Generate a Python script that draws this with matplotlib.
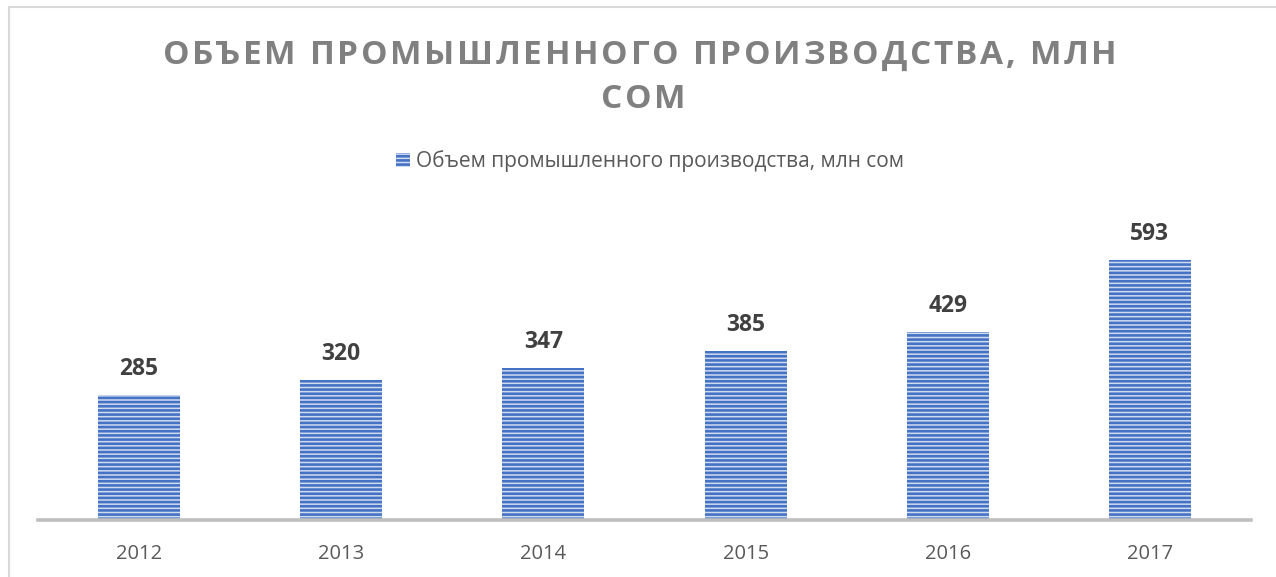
import matplotlib
matplotlib.use("Agg")
import matplotlib.pyplot as plt
from matplotlib.lines import Line2D
from matplotlib.patches import Patch

years = ["2012", "2013", "2014", "2015", "2016", "2017"]
values = [285, 320, 347, 385, 429, 593]
series_name = "Объем промышленного производства, млн сом"
title_lines = ["ОБЪЕМ ПРОМЫШЛЕННОГО ПРОИЗВОДСТВА, МЛН", "СОМ"]

plt.rcParams['font.family'] = ['Open Sans', 'DejaVu Sans']
plt.rcParams['hatch.linewidth'] = 1.9

W, H = 1276, 577
fig = plt.figure(figsize=(W / 100, H / 100), dpi=100)
fig.patch.set_facecolor('white')

def fx(px):
    return px / W

def fy(py):
    return 1 - py / H

# chart border (left and top)
fig.add_artist(Line2D([fx(8.5), fx(8.5)], [fy(7), 0], color='#D9D9D9', lw=1.5))
fig.add_artist(Line2D([fx(8.5), 1], [fy(7), fy(7)], color='#D9D9D9', lw=1.5))

blue = '#4472C4'
light = '#D0DBF0'

ax_left, ax_right, ax_bottom = 38, 1251, 520
ymax = 700
px_per_unit = 125 / 285.0
ax_top = ax_bottom - ymax * px_per_unit
ax = fig.add_axes([fx(ax_left), fy(ax_bottom), fx(ax_right - ax_left), (ax_bottom - ax_top) / H])
ax.set_facecolor('none')

x = list(range(len(years)))
bars = ax.bar(x, values, width=0.405, color=light, edgecolor=blue, linewidth=0,
              hatch='----', label=series_name, zorder=2)
ax.set_xlim(-0.5, len(years) - 0.5)
ax.set_ylim(0, ymax)

for xi, v in zip(x, values):
    ax.annotate(str(v), (xi, v), xytext=(0, 14), textcoords='offset pixels',
                ha='center', va='bottom', fontsize=16.5, fontweight='bold', color='#404040')

for s in ['top', 'right', 'left']:
    ax.spines[s].set_visible(False)
ax.spines['bottom'].set_color('#BFBFBF')
ax.spines['bottom'].set_linewidth(2.6)
ax.set_yticks([])
ax.set_xticks(x)
ax.set_xticklabels(years, fontsize=14.5, color='#595959')
ax.tick_params(axis='x', length=0, pad=17)

leg_handle = Patch(facecolor=light, edgecolor=blue, hatch='----', linewidth=0)
leg = fig.legend([leg_handle], [series_name], loc='center', bbox_to_anchor=(fx(650), fy(161)),
                 frameon=False, fontsize=15, handlelength=0.66, handleheight=0.66,
                 handletextpad=0.3, labelcolor='#595959')

# title with letter spacing
renderer = fig.canvas.get_renderer()

def tracked_text(s, cx, cy, total_width=None, tracking=0.0, **kw):
    widths = []
    for ch in s:
        t = fig.text(0, 0, ch if ch != ' ' else '\u00a0', **kw)
        bb = t.get_window_extent(renderer)
        widths.append(bb.width)
        t.remove()
    natural = sum(widths)
    if total_width is not None and len(s) > 1:
        tracking = (total_width - natural) / (len(s) - 1)
    full = natural + tracking * (len(s) - 1)
    pos = cx - full / 2
    for ch, w in zip(s, widths):
        fig.text(fx(pos), fy(cy), ch, ha='left', va='center', **kw)
        pos += w + tracking
    return tracking

tkw = dict(fontsize=24, fontweight='bold', color='#808080')
trk = tracked_text(title_lines[0], 640, 55, total_width=954, **tkw)
tracked_text(title_lines[1], 643, 100, tracking=trk, **tkw)

fig.savefig('out.png', dpi=100, facecolor='white')
